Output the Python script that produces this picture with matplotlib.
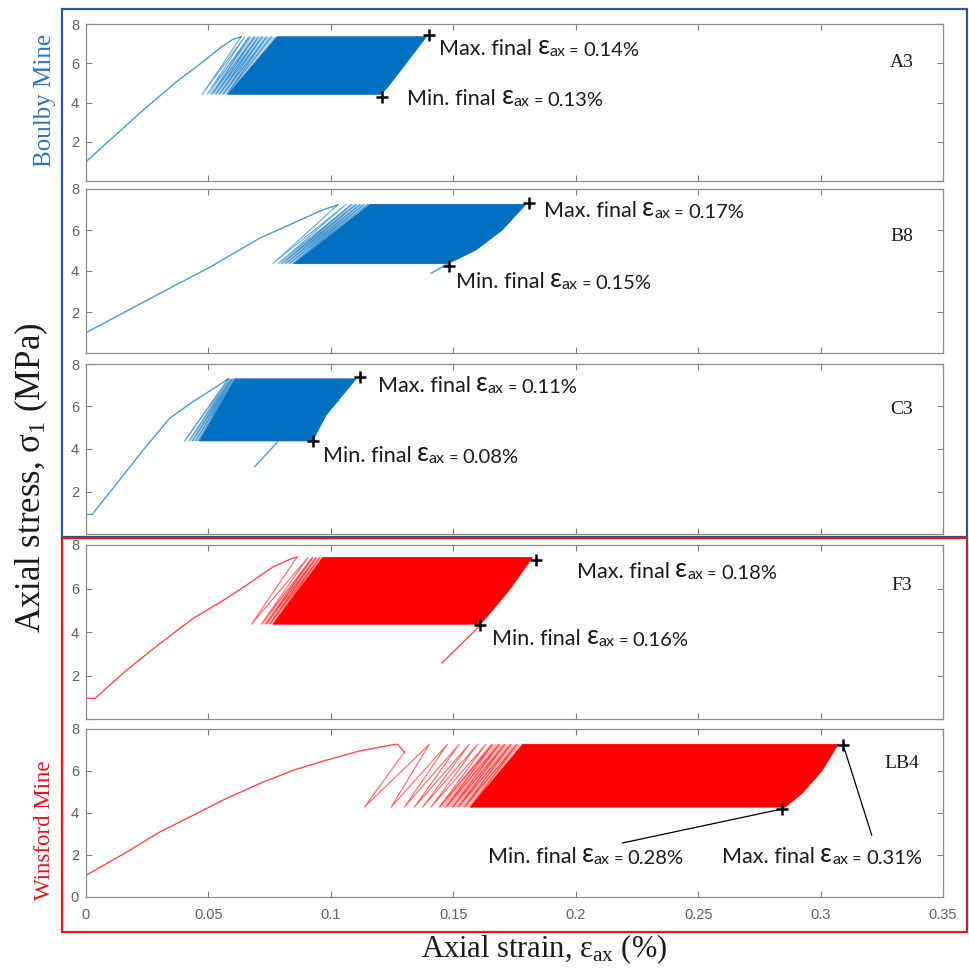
import matplotlib
matplotlib.use("Agg")
import matplotlib.pyplot as plt
from matplotlib.patches import Rectangle

plt.rcParams['mathtext.fontset'] = 'custom'
plt.rcParams['mathtext.rm'] = 'Liberation Serif'
plt.rcParams['mathtext.it'] = 'Liberation Serif:italic'

SERIF = ['Liberation Serif', 'DejaVu Serif']
SANS = ['Lato', 'DejaVu Sans']
TICKFONT = ['Liberation Sans', 'DejaVu Sans']

XTICKS = [0, 0.05, 0.1, 0.15, 0.2, 0.25, 0.3, 0.35]
XTICKLABELS = ['0', '0.05', '0.1', '0.15', '0.2', '0.25', '0.3', '0.35']
YTICKS = [0, 2, 4, 6, 8]

# ---- A3 (Boulby) ----
A3_load_x = [0, 0.0098, 0.0234, 0.0370, 0.0478, 0.0546, 0.0600, 0.0634]
A3_load_y = [0.98, 2.09, 3.62, 5.06, 6.08, 6.76, 7.22, 7.35]
A3_valleys = [0.0475, 0.0495, 0.0515, 0.0530, 0.0545, 0.0560, 0.0575]
A3_peaks = [0.0648, 0.0668, 0.0689, 0.0705, 0.0720, 0.0738, 0.0757]
A3_haze_x = [0.0500, 0.0660, 0.0780, 0.0580]
A3_haze_y = [4.42, 7.35, 7.35, 4.42]
A3_band_x = [0.058, 0.078, 0.139, 0.1239, 0.1205]
A3_band_y = [4.42, 7.35, 7.35, 4.89, 4.42]
A3_tail_x = []
A3_tail_y = []
A3_max = (0.1400, 7.45)
A3_min = (0.1210, 4.30)

# ---- B8 (Boulby) ----
B8_load_x = [0, 0.0302, 0.0505, 0.0709, 0.0845, 0.0967, 0.1028]
B8_load_y = [0.99, 2.91, 4.18, 5.60, 6.33, 6.98, 7.22]
B8_valleys = [0.0763, 0.0785, 0.0800, 0.0815, 0.0830, 0.0845]
B8_peaks = [0.1062, 0.1085, 0.1103, 0.1120, 0.1135, 0.1150]
B8_haze_x = [0.0790, 0.1080, 0.1160, 0.0850]
B8_haze_y = [4.36, 7.25, 7.25, 4.36]
B8_band_x = [0.085, 0.116, 0.1796, 0.170, 0.1592, 0.151, 0.1476]
B8_band_y = [4.36, 7.25, 7.25, 6.0, 5.02, 4.54, 4.36]
B8_tail_x = [0.1476, 0.1409]
B8_tail_y = [4.34, 3.89]
B8_max = (0.1810, 7.30)
B8_min = (0.1484, 4.24)

# ---- C3 (Boulby) ----
C3_load_x = [0, 0.0025, 0.0111, 0.0234, 0.0342, 0.0437, 0.0533, 0.0580]
C3_load_y = [0.92, 0.92, 2.16, 3.96, 5.45, 6.23, 6.93, 7.30]
C3_valleys = [0.0403, 0.0420, 0.0435, 0.0448, 0.0460]
C3_peaks = [0.0585, 0.0592, 0.0598, 0.0605, 0.0610]
C3_haze_x = [0.0420, 0.0590, 0.0610, 0.0465]
C3_haze_y = [4.38, 7.30, 7.30, 4.38]
C3_band_x = [0.0465, 0.061, 0.1103, 0.0981, 0.0925]
C3_band_y = [4.38, 7.30, 7.30, 5.60, 4.38]
C3_tail_x = [0.0784, 0.0689]
C3_tail_y = [4.35, 3.17]
C3_max = (0.1117, 7.38)
C3_min = (0.0927, 4.37)

# ---- F3 (Winsford) ----
F3_load_x = [0, 0.0037, 0.0166, 0.0302, 0.0437, 0.0573, 0.0655, 0.0763, 0.0845, 0.0862]
F3_load_y = [0.95, 0.95, 2.25, 3.47, 4.62, 5.54, 6.15, 6.99, 7.40, 7.44]
F3_valleys = [0.0676, 0.0716, 0.0735, 0.0750, 0.0765]
F3_peaks = [0.0906, 0.0925, 0.0940, 0.0955, 0.0968]
F3_haze_x = [0.0720, 0.0920, 0.0968, 0.0765]
F3_haze_y = [4.36, 7.42, 7.42, 4.36]
F3_band_x = [0.0765, 0.0968, 0.1823, 0.1728, 0.166, 0.161]
F3_band_y = [4.36, 7.42, 7.42, 5.92, 5.0, 4.36]
F3_tail_x = [0.1610, 0.1454]
F3_tail_y = [4.30, 2.58]
F3_max = (0.1838, 7.33)
F3_min = (0.1610, 4.31)

# ---- LB4 (Winsford) ----
LB4_load_x = [0, 0.0166, 0.0302, 0.0437, 0.0573, 0.0709, 0.0845, 0.0980, 0.1116, 0.1252, 0.1273, 0.1300]
LB4_load_y = [1.03, 2.14, 3.10, 3.89, 4.69, 5.40, 6.03, 6.51, 6.95, 7.25, 7.27, 6.90]
LB4_valleys = [0.1137, 0.1246, 0.1300, 0.1341, 0.1375, 0.1409, 0.1443, 0.1470, 0.1497, 0.1520, 0.1545, 0.1570]
LB4_peaks = [0.1402, 0.1476, 0.1524, 0.1565, 0.1599, 0.1633, 0.1660, 0.1687, 0.1710, 0.1735, 0.1760, 0.1785]
LB4_haze_x = [0.1440, 0.1650, 0.1785, 0.1570]
LB4_haze_y = [4.28, 7.27, 7.27, 4.28]
LB4_band_x = [0.157, 0.1785, 0.3072, 0.3005, 0.2924, 0.2855]
LB4_band_y = [4.28, 7.27, 7.27, 6.0, 4.93, 4.28]
LB4_tail_x = []
LB4_tail_y = []
LB4_max = (0.3093, 7.22)
LB4_min = (0.2842, 4.19)

MAX_LABELS = ['0.14%', '0.17%', '0.11%', '0.18%', '0.31%']
MIN_LABELS = ['0.13%', '0.15%', '0.08%', '0.16%', '0.28%']
NAMES = ['A3', 'B8', 'C3', 'F3', 'LB4']

BLUE = '#0070C0'
RED = '#FF0000'

W, H = 970, 969


def fig_rect(top, bottom, left=86, right=943):
    return [left / W, 1 - bottom / H, (right - left) / W, (bottom - top) / H]


def zigzag(end_x, end_y, valleys, peaks, lo, hi):
    xs, ys = [end_x], [end_y]
    for v, p in zip(valleys, peaks):
        xs += [v, p]
        ys += [lo, hi]
    return xs, ys


def chain_text(ax, x, y, pieces):
    t = ax.text(x, y, pieces[0][0], fontsize=pieces[0][1], family=SANS,
                va='baseline', ha='left', color='#1a1a1a')
    for s, fs in pieces[1:]:
        t = ax.annotate(s, xy=(1, 0), xycoords=t, fontsize=fs, family=SANS,
                        va='bottom', ha='left', color='#1a1a1a')
    return t


def strain_label(ax, x, y, kind, value):
    chain_text(ax, x, y, [(kind + ' final ', 15.5), ('ε', 19), ('ax', 11.5),
                          (' = ', 11.5), (value, 14.5)])


panels = [
    dict(name='A3', rect=fig_rect(24, 181), color=BLUE,
         load=(A3_load_x, A3_load_y), valleys=A3_valleys, peaks=A3_peaks,
         haze=(A3_haze_x, A3_haze_y),
         band=(A3_band_x, A3_band_y), tail=(A3_tail_x, A3_tail_y),
         mx=A3_max, mn=A3_min, max_txt=(0.1442, 6.42), min_txt=(0.1313, 3.87),
         name_pos=(0.333, 6.06)),
    dict(name='B8', rect=fig_rect(189, 353), color=BLUE,
         load=(B8_load_x, B8_load_y), valleys=B8_valleys, peaks=B8_peaks,
         haze=(B8_haze_x, B8_haze_y),
         band=(B8_band_x, B8_band_y), tail=(B8_tail_x, B8_tail_y),
         mx=B8_max, mn=B8_min, max_txt=(0.187, 6.65), min_txt=(0.151, 3.16),
         name_pos=(0.333, 5.7)),
    dict(name='C3', rect=fig_rect(364, 534), color=BLUE,
         load=(C3_load_x, C3_load_y), valleys=C3_valleys, peaks=C3_peaks,
         haze=(C3_haze_x, C3_haze_y),
         band=(C3_band_x, C3_band_y), tail=(C3_tail_x, C3_tail_y),
         mx=C3_max, mn=C3_min, max_txt=(0.1191, 6.69), min_txt=(0.0967, 3.41),
         name_pos=(0.333, 5.84)),
    dict(name='F3', rect=fig_rect(545, 719), color=RED,
         load=(F3_load_x, F3_load_y), valleys=F3_valleys, peaks=F3_peaks,
         haze=(F3_haze_x, F3_haze_y),
         band=(F3_band_x, F3_band_y), tail=(F3_tail_x, F3_tail_y),
         mx=F3_max, mn=F3_min, max_txt=(0.2005, 6.47), min_txt=(0.166, 3.39),
         name_pos=(0.333, 6.15)),
    dict(name='LB4', rect=fig_rect(729, 897), color=RED,
         load=(LB4_load_x, LB4_load_y), valleys=LB4_valleys, peaks=LB4_peaks,
         haze=(LB4_haze_x, LB4_haze_y),
         band=(LB4_band_x, LB4_band_y), tail=(LB4_tail_x, LB4_tail_y),
         mx=LB4_max, mn=LB4_min, max_txt=(0.2597, 1.62), min_txt=(0.164, 1.62),
         name_pos=(0.3333, 6.37)),
]

fig = plt.figure(figsize=(W / 100, H / 100), dpi=100)

for i, p in enumerate(panels):
    ax = fig.add_axes(p['rect'])
    c = p['color']
    lo, hi = p['band'][1][0], p['band'][1][1]

    lx, ly = p['load']
    ax.plot(lx, ly, color=c, lw=1.0, alpha=0.7)
    ax.fill(p['haze'][0], p['haze'][1], color=c, alpha=0.3, lw=0)
    zx, zy = zigzag(lx[-1], ly[-1], p['valleys'], p['peaks'], lo, hi)
    ax.plot(zx, zy, color=c, lw=0.8, alpha=0.6)
    ax.fill(p['band'][0], p['band'][1], color=c, lw=0.6, ec=c)
    if p['tail'][0]:
        ax.plot(p['tail'][0], p['tail'][1], color=c, lw=1.0, alpha=0.7)

    ax.plot(*p['mx'], marker='+', color='black', ms=9, mew=1.8)
    ax.plot(*p['mn'], marker='+', color='black', ms=9, mew=1.8)

    strain_label(ax, *p['max_txt'], 'Max.', MAX_LABELS[i])
    strain_label(ax, *p['min_txt'], 'Min.', MIN_LABELS[i])

    if p['name'] == 'LB4':
        ax.annotate('', xy=p['mn'], xytext=(0.219, 2.57),
                    arrowprops=dict(arrowstyle='-', lw=0.9, color='black', shrinkA=0, shrinkB=3))
        ax.annotate('', xy=p['mx'], xytext=(0.3209, 2.94),
                    arrowprops=dict(arrowstyle='-', lw=0.9, color='black', shrinkA=0, shrinkB=3))

    ax.text(*p['name_pos'], p['name'], family=SERIF, fontsize=14, ha='center', va='center',
            color='#1a1a1a')

    ax.set_xlim(0, 0.35)
    ax.set_ylim(0, 8)
    ax.set_xticks(XTICKS)
    ax.set_yticks(YTICKS)
    if i == len(panels) - 1:
        ax.set_xticklabels(XTICKLABELS)
        ax.set_yticklabels([str(v) for v in YTICKS])
    else:
        ax.set_xticklabels([])
        ax.set_yticklabels([''] + [str(v) for v in YTICKS[1:]])
    for lab in ax.get_xticklabels() + ax.get_yticklabels():
        lab.set_family(TICKFONT)
    ax.tick_params(direction='in', top=True, right=True, length=4, width=0.8,
                   color='#808080', labelcolor='#606060', labelsize=10.5)
    ax.tick_params(axis='x', pad=8)
    ax.tick_params(axis='y', pad=5)
    for s in ax.spines.values():
        s.set_color('#8c8c8c')
        s.set_linewidth(0.9)

# group frames
fig.add_artist(Rectangle((62 / W, 1 - 537 / H), (967 - 62) / W, (537 - 9) / H,
                         transform=fig.transFigure, fill=False, ec='#2F5597', lw=1.6))
fig.add_artist(Rectangle((62 / W, 1 - 932 / H), (967 - 62) / W, (932 - 538) / H,
                         transform=fig.transFigure, fill=False, ec='#E8141B', lw=1.6))

fig.text(45 / W, 1 - 100 / H, 'Boulby Mine', rotation=90, family=SERIF, fontsize=18,
         color='#2E75B6', ha='center', va='center')
fig.text(45 / W, 1 - 830 / H, 'Winsford Mine', rotation=90, family=SERIF, fontsize=16.5,
         color='#E8141B', ha='center', va='center')

fig.text(31 / W, 1 - 478 / H, r'Axial stress, $\mathrm{σ}_{1}$ (MPa)', rotation=90,
         family=SERIF, fontsize=25, ha='center', va='center', color='#1a1a1a')
fig.text(544 / W, 1 - 957 / H, r'Axial strain, $\mathrm{ε}_{\mathrm{ax}}$ (%)',
         family=SERIF, fontsize=22, ha='center', va='baseline', color='#1a1a1a')

fig.savefig('out.png', dpi=100)
